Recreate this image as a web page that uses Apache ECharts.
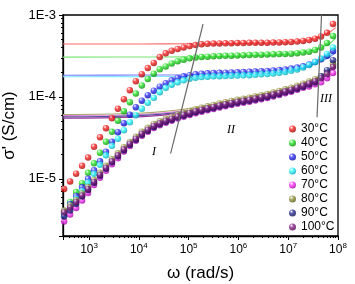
<!DOCTYPE html>
<html>
<head>
<meta charset="utf-8">
<script src="https://cdn.jsdelivr.net/npm/echarts@6/dist/echarts.min.js"></script>
<style>
  html, body { margin: 0; padding: 0; background: #fff; }
  #chart { width: 355px; height: 284px; }
</style>
</head>
<body>
<div id="chart"></div>
<script>
// angular frequency (rad/s)
const freq = [316, 417, 550, 724, 955, 1259, 1660, 2188, 2884, 3802, 5012, 6607, 8710, 11482, 15136,
  19953, 26303, 34674, 45709, 60256, 79433, 104713, 138038, 181970, 239883, 316228, 416869, 549541,
  724436, 954993, 1259000, 1660000, 2188000, 2884000, 3802000, 5012000, 6607000, 8710000, 11480000,
  15140000, 19950000, 26300000, 34670000, 45710000, 60260000, 79430000]

const temps = ['30°C', '40°C', '50°C', '60°C', '70°C', '80°C', '90°C', '100°C']

// sigma' (S/cm) per temperature
const s30 = [7.52e-6, 9.29e-6, 1.154e-5, 1.438e-5, 1.813e-5, 2.458e-5, 3.21e-5, 4.14e-5, 5.49e-5, 7.17e-5,
  9.37e-5, 1.208e-4, 1.557e-4, 1.896e-4, 2.245e-4, 2.60e-4, 3.06e-4, 3.40e-4, 3.66e-4, 3.84e-4,
  4.00e-4, 4.17e-4, 4.29e-4, 4.38e-4, 4.44e-4, 4.48e-4, 4.50e-4, 4.51e-4, 4.53e-4, 4.54e-4,
  4.54e-4, 4.57e-4, 4.58e-4, 4.58e-4, 4.59e-4, 4.61e-4, 4.63e-4, 4.66e-4, 4.68e-4, 4.74e-4,
  4.82e-4, 4.94e-4, 5.14e-4, 5.45e-4, 6.05e-4, 7.76e-4]
const s40 = [3.77e-6, 5.22e-6, 6.87e-6, 8.83e-6, 1.181e-5, 1.543e-5, 2.075e-5, 2.83e-5, 3.75e-5, 5.11e-5,
  6.68e-5, 8.61e-5, 1.100e-4, 1.378e-4, 1.656e-4, 1.923e-4, 2.17e-4, 2.355e-4, 2.56e-4, 2.72e-4,
  2.85e-4, 2.96e-4, 3.03e-4, 3.07e-4, 3.10e-4, 3.13e-4, 3.15e-4, 3.17e-4, 3.19e-4, 3.20e-4,
  3.22e-4, 3.24e-4, 3.26e-4, 3.28e-4, 3.30e-4, 3.31e-4, 3.33e-4, 3.35e-4, 3.37e-4, 3.42e-4,
  3.48e-4, 3.57e-4, 3.73e-4, 4.00e-4, 4.54e-4, 5.53e-4]
const s50 = [3.99e-6, 4.93e-6, 6.17e-6, 7.85e-6, 9.97e-6, 1.267e-5, 1.633e-5, 2.135e-5, 2.83e-5, 3.70e-5,
  4.77e-5, 6.05e-5, 7.48e-5, 8.98e-5, 1.049e-4, 1.191e-4, 1.333e-4, 1.471e-4, 1.592e-4, 1.703e-4,
  1.782e-4, 1.838e-4, 1.885e-4, 1.917e-4, 1.939e-4, 1.955e-4, 1.966e-4, 1.977e-4, 1.989e-4, 2.000e-4,
  2.011e-4, 2.023e-4, 2.040e-4, 2.057e-4, 2.074e-4, 2.099e-4, 2.13e-4, 2.165e-4, 2.215e-4, 2.278e-4,
  2.362e-4, 2.478e-4, 2.66e-4, 2.89e-4, 3.19e-4, 3.63e-4]
const s60 = [3.67e-6, 4.59e-6, 5.68e-6, 7.11e-6, 9.03e-6, 1.148e-5, 1.479e-5, 1.934e-5, 2.527e-5, 3.08e-5,
  3.91e-5, 4.90e-5, 5.97e-5, 7.17e-5, 8.49e-5, 9.78e-5, 1.141e-4, 1.296e-4, 1.410e-4, 1.513e-4,
  1.592e-4, 1.665e-4, 1.718e-4, 1.747e-4, 1.767e-4, 1.783e-4, 1.792e-4, 1.804e-4, 1.815e-4, 1.823e-4,
  1.835e-4, 1.843e-4, 1.864e-4, 1.885e-4, 1.906e-4, 1.934e-4, 1.972e-4, 2.017e-4, 2.081e-4, 2.165e-4,
  2.278e-4, 2.443e-4, 2.66e-4, 2.94e-4, 3.33e-4, 4.00e-4]
const s70 = [3.01e-6, 3.67e-6, 4.41e-6, 5.44e-6, 6.72e-6, 8.42e-6, 1.026e-5, 1.250e-5, 1.501e-5, 1.777e-5,
  2.16e-5, 2.52e-5, 2.91e-5, 3.36e-5, 3.75e-5, 4.18e-5, 4.51e-5, 4.83e-5, 5.11e-5, 5.44e-5,
  5.72e-5, 6.02e-5, 6.31e-5, 6.59e-5, 6.87e-5, 7.13e-5, 7.42e-5, 7.69e-5, 7.98e-5, 8.25e-5,
  8.49e-5, 8.73e-5, 9.04e-5, 9.38e-5, 9.72e-5, 1.011e-4, 1.055e-4, 1.104e-4, 1.158e-4, 1.225e-4,
  1.296e-4, 1.341e-4, 1.431e-4, 1.513e-4, 1.694e-4, 1.952e-4]
const s80 = [4.11e-6, 4.73e-6, 5.52e-6, 6.62e-6, 7.96e-6, 9.69e-6, 1.181e-5, 1.439e-5, 1.728e-5, 2.046e-5,
  2.42e-5, 2.82e-5, 3.26e-5, 3.76e-5, 4.20e-5, 4.68e-5, 5.05e-5, 5.41e-5, 5.72e-5, 6.09e-5,
  6.40e-5, 6.74e-5, 7.07e-5, 7.37e-5, 7.69e-5, 7.98e-5, 8.31e-5, 8.61e-5, 8.93e-5, 9.24e-5,
  9.50e-5, 9.78e-5, 1.011e-4, 1.050e-4, 1.088e-4, 1.132e-4, 1.181e-4, 1.236e-4, 1.296e-4, 1.371e-4,
  1.451e-4, 1.544e-4, 1.647e-4, 1.792e-4, 2.006e-4, 2.51e-4]
const s90 = [3.47e-6, 4.11e-6, 4.93e-6, 6.09e-6, 7.31e-6, 8.91e-6, 1.085e-5, 1.322e-5, 1.588e-5, 1.880e-5,
  2.23e-5, 2.60e-5, 2.99e-5, 3.45e-5, 3.86e-5, 4.30e-5, 4.64e-5, 4.97e-5, 5.26e-5, 5.60e-5,
  5.88e-5, 6.19e-5, 6.49e-5, 6.78e-5, 7.07e-5, 7.33e-5, 7.63e-5, 7.91e-5, 8.21e-5, 8.49e-5,
  8.73e-5, 8.98e-5, 9.29e-5, 9.64e-5, 9.99e-5, 1.040e-4, 1.085e-4, 1.136e-4, 1.191e-4, 1.260e-4,
  1.333e-4, 1.418e-4, 1.514e-4, 1.792e-4, 2.12e-4, 2.81e-4]
const s100 = [3.88e-6, 4.47e-6, 5.22e-6, 6.26e-6, 7.52e-6, 9.16e-6, 1.116e-5, 1.360e-5, 1.633e-5, 1.934e-5,
  2.29e-5, 2.67e-5, 3.08e-5, 3.55e-5, 3.97e-5, 4.42e-5, 4.77e-5, 5.11e-5, 5.41e-5, 5.76e-5,
  6.05e-5, 6.37e-5, 6.68e-5, 6.97e-5, 7.27e-5, 7.54e-5, 7.85e-5, 8.14e-5, 8.44e-5, 8.73e-5,
  8.98e-5, 9.24e-5, 9.56e-5, 9.92e-5, 1.028e-4, 1.070e-4, 1.116e-4, 1.168e-4, 1.225e-4, 1.296e-4,
  1.371e-4, 1.459e-4, 1.557e-4, 1.694e-4, 1.896e-4, 2.31e-4]

// fitted curves
const fitFreq = [300, 1e4, 1e5, 1e6, 3e6, 1e7, 3e7, 6e7, 9e7]
const f30 = [4.42e-4, 4.43e-4, 4.45e-4, 4.5e-4, 4.57e-4, 4.72e-4, 5.1e-4, 5.9e-4, 7.0e-4]
const f40 = [3.06e-4, 3.07e-4, 3.08e-4, 3.14e-4, 3.22e-4, 3.36e-4, 3.7e-4, 4.3e-4, 5.2e-4]
const f50 = [1.84e-4, 1.85e-4, 1.86e-4, 1.92e-4, 2.0e-4, 2.12e-4, 2.45e-4, 2.95e-4, 3.45e-4]
const f60 = [1.76e-4, 1.77e-4, 1.78e-4, 1.84e-4, 1.92e-4, 2.06e-4, 2.42e-4, 3.0e-4, 3.65e-4]
const f70 = [5.95e-5, 6.1e-5, 6.9e-5, 8.8e-5, 1.0e-4, 1.18e-4, 1.45e-4, 1.7e-4, 1.95e-4]
const f80 = [6.1e-5, 6.3e-5, 7.2e-5, 9.5e-5, 1.09e-4, 1.27e-4, 1.6e-4, 1.95e-4, 2.3e-4]
const f90 = [5.7e-5, 5.9e-5, 6.7e-5, 9.0e-5, 1.04e-4, 1.22e-4, 1.55e-4, 2.0e-4, 2.6e-4]
const f100 = [5.5e-5, 5.7e-5, 6.6e-5, 9.0e-5, 1.05e-4, 1.25e-4, 1.6e-4, 1.95e-4, 2.35e-4]

// region boundary guide lines
const lineI = [[1.95e5, 7.76e-4], [4.34e4, 2.03e-5]]
const lineIII = [[4.67e7, 1e-3], [3.79e7, 5.65e-5]]

const ySets = [s30, s40, s50, s60, s70, s80, s90, s100]
const fitSets = [f30, f40, f50, f60, f70, f80, f90, f100]
const dotColors = [['#ff2a2a', '#a00000'], ['#2ee82e', '#008a00'], ['#3a3aff', '#0000a0'], ['#30ffff', '#00a0b4'],
  ['#ff3cff', '#a000a0'], ['#9a9a48', '#55550f'], ['#30309a', '#0c0c50'], ['#8e2e8e', '#4e004e']]
const fitColors = ['#ff6a6a', '#74e474', '#7a7aff', '#80eaff', '#e47ae4', '#a8a868', '#50509c', '#9a3a9a']

const font = 'Liberation Sans'
const ball = (c, d) => new echarts.graphic.RadialGradient(0.35, 0.3, 0.75, [
  { offset: 0, color: '#ffffff' },
  { offset: 0.35, color: c },
  { offset: 1, color: d }
])
const isPow10 = v => Math.abs(Math.log10(v) - Math.round(Math.log10(v))) < 1e-6

const chart = echarts.init(document.getElementById('chart'))

const series = []
temps.forEach((t, i) => {
  series.push({
    name: t + ' fit',
    type: 'line',
    data: fitFreq.map((f, k) => [f, fitSets[i][k]]),
    smooth: 0.4,
    showSymbol: false,
    silent: true,
    lineStyle: { color: fitColors[i], width: 1.1 },
    z: 2
  })
})
temps.forEach((t, i) => {
  series.push({
    name: t,
    type: 'scatter',
    data: freq.map((f, k) => [f, ySets[i][k]]),
    symbol: 'circle',
    symbolSize: 6.5,
    itemStyle: { color: ball(dotColors[i][0], dotColors[i][1]) },
    z: 3
  })
})
;[lineI, lineIII].forEach(seg => {
  series.push({
    type: 'line',
    data: seg,
    showSymbol: false,
    silent: true,
    lineStyle: { color: '#6a6a6a', width: 1.2 },
    z: 4
  })
})

const option = {
  animation: false,
  backgroundColor: '#fff',
  grid: {
    left: 63, right: 17, top: 15, bottom: 48,
    outerBoundsMode: 'none',
    containLabel: false,
    show: true, borderColor: '#000', borderWidth: 1.3
  },
  legend: {
    data: temps,
    orient: 'vertical',
    left: 284,
    top: 118,
    itemWidth: 7,
    itemHeight: 7,
    itemGap: 2,
    itemTextGap: 10,
    icon: 'circle',
    textStyle: { fontFamily: font, fontSize: 12, color: '#000' }
  },
  xAxis: {
    type: 'log',
    logBase: 10,
    min: 300,
    max: 1e8,
    name: 'ω (rad/s)',
    nameLocation: 'middle',
    nameGap: 29,
    nameTextStyle: { fontFamily: font, fontSize: 17, color: '#000' },
    axisLine: { lineStyle: { color: '#000', width: 1.3 } },
    axisTick: { inside: false, length: 4, lineStyle: { color: '#000' } },
    minorTick: { show: true, splitNumber: 9, length: 2, lineStyle: { color: '#000' } },
    splitLine: { show: false },
    axisLabel: {
      margin: 6,
      color: '#000',
      formatter: v => isPow10(v) ? '{b|10}{s|' + Math.round(Math.log10(v)) + '}' : '',
      rich: {
        b: { fontFamily: font, fontSize: 12, color: '#000' },
        s: { fontFamily: font, fontSize: 8, color: '#000', verticalAlign: 'bottom', padding: [0, 0, 7, 0] }
      }
    }
  },
  yAxis: {
    type: 'log',
    logBase: 10,
    min: 2e-6,
    max: 1e-3,
    name: "σ' (S/cm)",
    nameLocation: 'middle',
    nameGap: 45,
    nameTextStyle: { fontFamily: font, fontSize: 17, color: '#000' },
    axisLine: { show: true, lineStyle: { color: '#000', width: 1.3 } },
    axisTick: { inside: false, length: 4, lineStyle: { color: '#000' } },
    minorTick: { show: true, splitNumber: 9, length: 2, lineStyle: { color: '#000' } },
    splitLine: { show: false },
    axisLabel: {
      margin: 7,
      fontFamily: font,
      fontSize: 13,
      color: '#000',
      formatter: v => isPow10(v) ? '1E' + Math.round(Math.log10(v)) : ''
    }
  },
  graphic: [
    { type: 'text', left: 152, top: 146, style: { text: 'I', font: 'italic 12px "Liberation Serif"', fill: '#000' } },
    { type: 'text', left: 227, top: 124, style: { text: 'II', font: 'italic 12px "Liberation Serif"', fill: '#000' } },
    { type: 'text', left: 320, top: 93, style: { text: 'III', font: 'italic 12px "Liberation Serif"', fill: '#000' } }
  ],
  series: series
}

chart.setOption(option)
window.addEventListener('resize', () => chart.resize())
</script>
</body>
</html>
